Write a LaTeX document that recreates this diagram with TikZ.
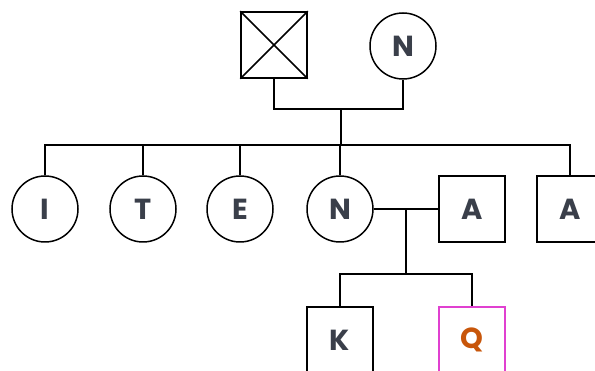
\documentclass[tikz,border=0pt]{standalone}
\usepackage{fontspec}
\setmainfont{Poppins}
\definecolor{txt}{HTML}{3A3F4A}
\definecolor{qborder}{HTML}{E040D0}
\definecolor{qtext}{HTML}{C8560A}
\tikzset{
  person/.style={draw=black, line width=1.5pt, fill=white, inner sep=0pt,
    font=\fontsize{29}{29}\selectfont\bfseries, text=txt},
  female/.style={person, circle, minimum size=66pt},
  male/.style={person, rectangle, minimum size=66pt},
  link/.style={draw=black, line width=1.5pt}
}
\begin{document}
\begin{tikzpicture}[x=1pt,y=-1pt]
\useasboundingbox (0,0) rectangle (595,371);
\clip (0,0) rectangle (595,371);
% generation 1
\node[male] (gf) at (274,45) {};
\draw[line width=1.5pt] (gf.north west) -- (gf.south east) (gf.north east) -- (gf.south west);
\node[female] (gm) at (403,46) {N};
\coordinate (m1) at (341,109);
\draw[link] (gf.south) |- (m1) -| (gm.south);
% generation 2
\node[female] (c1) at (45,209) {I};
\node[female] (c2) at (143,209) {T};
\node[female] (c3) at (240,209) {E};
\node[female] (c4) at (340,209) {N};
\node[male] (sp) at (472,209) {A};
\node[male] (c5) at (570,209) {A};
\coordinate (s1) at (341,145);
\draw[link] (m1) -- (s1);
\draw[link] (c1.north) |- (s1) -| (c5.north);
\draw[link] (c2.north) -- (c2.north |- s1);
\draw[link] (c3.north) -- (c3.north |- s1);
\draw[link] (c4.north) -- (c4.north |- s1);
% marriage
\coordinate (m2) at (406,209);
\draw[link] (c4.east) -- (sp.west);
\coordinate (s2) at (406,274);
\draw[link] (m2) -- (s2);
% generation 3
\node[male] (k) at (340,340) {K};
\node[male, draw=qborder, line width=1.2pt, text=qtext] (q) at (472,340) {Q};
\draw[link] (k.north) |- (s2) -| (q.north);
\end{tikzpicture}
\end{document}
